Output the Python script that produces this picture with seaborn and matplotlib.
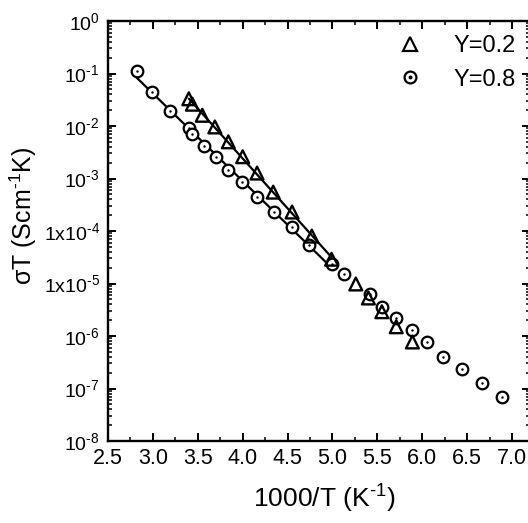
import numpy as np
import pandas as pd
import matplotlib
matplotlib.use("Agg")
import matplotlib.pyplot as plt
import seaborn as sns
from matplotlib.ticker import FixedLocator, LogLocator, NullFormatter, MultipleLocator
from matplotlib.legend_handler import HandlerTuple
from matplotlib.lines import Line2D

# Y = 0.2 (triangles)
x_y02 = [3.40, 3.44, 3.55, 3.69, 3.84, 4.00, 4.16, 4.34, 4.55, 4.77, 4.99,
         5.26, 5.40, 5.55, 5.71, 5.89]
s_y02 = [3.3e-2, 2.6e-2, 1.6e-2, 9.6e-3, 5.0e-3, 2.6e-3, 1.27e-3, 5.5e-4,
         2.3e-4, 8.0e-5, 2.9e-5, 9.8e-6, 5.3e-6, 2.9e-6, 1.5e-6, 7.7e-7]

# Y = 0.8 (circles)
x_y08 = [2.82, 2.99, 3.19, 3.40, 3.44, 3.57, 3.70, 3.84, 3.99, 4.16, 4.35,
         4.55, 4.74, 4.99, 5.13, 5.42, 5.55, 5.71, 5.89, 6.05, 6.23, 6.44,
         6.67, 6.89]
s_y08 = [0.112, 4.44e-2, 1.93e-2, 9.2e-3, 7.0e-3, 4.2e-3, 2.6e-3, 1.45e-3,
         8.6e-4, 4.4e-4, 2.3e-4, 1.19e-4, 5.4e-5, 2.35e-5, 1.52e-5, 6.3e-6,
         3.6e-6, 2.2e-6, 1.3e-6, 7.7e-7, 4.0e-7, 2.35e-7, 1.27e-7, 6.9e-8]

fit_upper = 5.0  # Arrhenius fit applies up to 1000/T = 5.0

HY = "\u2010"  # short hyphen for the exponents
ytick_exps = [0, -1, -2, -3, -4, -5, -6, -7, -8]
ytick_labels = [r"$10^{0}$", rf"$10^{{{HY}1}}$", rf"$10^{{{HY}2}}$",
                rf"$10^{{{HY}3}}$", rf"$1\mathrm{{x}}10^{{{HY}4}}$",
                rf"$1\mathrm{{x}}10^{{{HY}5}}$", rf"$10^{{{HY}6}}$",
                rf"$10^{{{HY}7}}$", rf"$10^{{{HY}8}}$"]
xticks = [2.5, 3.0, 3.5, 4.0, 4.5, 5.0, 5.5, 6.0, 6.5, 7.0]

sns.set_theme(style="ticks")
plt.rcParams["font.family"] = ["Liberation Sans", "DejaVu Sans"]
plt.rcParams["mathtext.fontset"] = "custom"
plt.rcParams["mathtext.rm"] = "Liberation Sans"
plt.rcParams["mathtext.it"] = "Liberation Sans:italic"
plt.rcParams["mathtext.bf"] = "Liberation Sans:bold"
plt.rcParams["text.color"] = "black"
plt.rcParams["axes.labelcolor"] = "black"

df02 = pd.DataFrame({"x": x_y02, "s": s_y02})
df08 = pd.DataFrame({"x": x_y08, "s": s_y08})


def fit_line(df):
    sub = df[df["x"] <= fit_upper + 1e-9]
    k, b = np.polyfit(sub["x"], np.log10(sub["s"]), 1)
    xs = np.array([sub["x"].min(), sub["x"].max()])
    return pd.DataFrame({"x": xs, "s": 10 ** (k * xs + b)})


fig = plt.figure(figsize=(5.28, 5.23), dpi=100)
W, H = 528, 523
ax = fig.add_axes([108 / W, 1 - 441 / H, (530 - 108) / W, 420 / H])

sns.lineplot(data=fit_line(df02), x="x", y="s", ax=ax, color="black", lw=1.6)
sns.lineplot(data=fit_line(df08), x="x", y="s", ax=ax, color="black", lw=1.6)

sns.scatterplot(data=df08, x="x", y="s", ax=ax, marker="o", s=70,
                facecolor="white", edgecolor="black", linewidth=1.6, zorder=3)
sns.scatterplot(data=df08, x="x", y="s", ax=ax, marker="o", s=3,
                color="black", linewidth=0, zorder=4)
sns.scatterplot(data=df02, x="x", y="s", ax=ax, marker="^",
                s=85, facecolor="none", edgecolor="black", linewidth=1.7, zorder=5)

ax.set_yscale("log")
ax.set_xlim(2.5, 7.2)
ax.set_ylim(1e-8, 1e0)

ax.xaxis.set_major_locator(FixedLocator(xticks))
ax.xaxis.set_minor_locator(MultipleLocator(0.25))
ax.set_xticklabels([f"{v:.1f}" for v in xticks])
ax.yaxis.set_major_locator(FixedLocator([10.0 ** e for e in ytick_exps]))
ax.set_yticklabels(ytick_labels)
ax.yaxis.set_minor_locator(LogLocator(base=10, subs=np.arange(2, 10), numticks=20))
ax.yaxis.set_minor_formatter(NullFormatter())

for sp in ax.spines.values():
    sp.set_linewidth(1.7)
    sp.set_color("black")
ax.tick_params(which="both", direction="in", top=True, right=True, colors="black")
ax.tick_params(which="major", length=6, width=1.4)
ax.tick_params(which="minor", length=3, width=1.1)
ax.tick_params(axis="x", pad=5, labelsize=15.5)
ax.tick_params(axis="y", pad=6, labelsize=14)

ax.set_xlabel(r"1000/T (K$^{\mathrm{" + HY + r"1}}$)", fontsize=19)
ax.set_ylabel("\u03c3T (Scm$^{\\mathrm{" + HY + "1}}$K)", fontsize=18)
ax.xaxis.set_label_coords(0.512, -0.100)
ax.yaxis.set_label_coords(-0.163, 0.536)

h_tri = Line2D([], [], ls="none", marker="^", ms=9.5, mfc="white", mec="black", mew=1.6)
h_circ = Line2D([], [], ls="none", marker="o", ms=8.5, mfc="white", mec="black", mew=1.6)
h_dot = Line2D([], [], ls="none", marker="o", ms=1.8, mfc="black", mec="black")
ax.legend([h_tri, (h_circ, h_dot)], ["Y=0.2", "Y=0.8"],
          handler_map={tuple: HandlerTuple(ndivide=1, pad=0)},
          loc="upper right", bbox_to_anchor=(0.967, 0.966), frameon=False,
          fontsize=17, handlelength=1.0, handletextpad=1.36,
          labelspacing=0.48, borderaxespad=0, borderpad=0)

fig.savefig("out.png", dpi=100)
